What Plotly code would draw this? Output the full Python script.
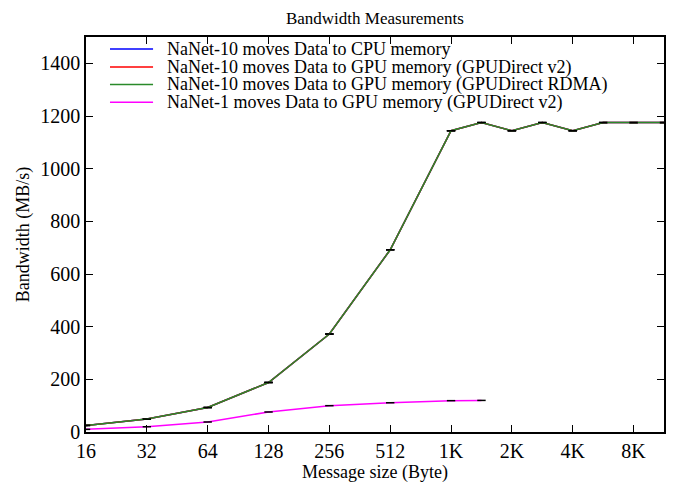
import plotly.graph_objects as go

sizes = [16, 32, 64, 128, 256, 512, 1024, 1448, 2048, 2896, 4096, 5792, 8192, 11585]
cpu_bw = [25, 49, 93, 188, 372, 692, 1144, 1175, 1144, 1175, 1144, 1175, 1175, 1175]
gpu_v2_bw = [25, 49, 93, 188, 372, 692, 1144, 1175, 1144, 1175, 1144, 1175, 1175, 1175]
gpu_rdma_bw = [25, 49, 93, 188, 372, 692, 1144, 1175, 1144, 1175, 1144, 1175, 1175, 1175]
nanet1_sizes = [16, 32, 64, 128, 256, 512, 1024, 1448]
nanet1_bw = [10, 20, 38, 76, 100, 111, 119, 120]

tick_vals = [16, 32, 64, 128, 256, 512, 1024, 2048, 4096, 8192]
tick_text = ["16", "32", "64", "128", "256", "512", "1K", "2K", "4K", "8K"]

names = [
    "NaNet-10 moves Data to CPU memory",
    "NaNet-10 moves Data to GPU memory (GPUDirect v2)",
    "NaNet-10 moves Data to GPU memory (GPUDirect RDMA)",
    "NaNet-1 moves Data to GPU memory (GPUDirect v2)",
]
colors = ["#0000ff", "#ff0000", "#2a8a2a", "#ff00ff"]

series = [
    (sizes, cpu_bw),
    (sizes, gpu_v2_bw),
    (sizes, gpu_rdma_bw),
    (nanet1_sizes, nanet1_bw),
]

font = "Liberation Serif, Times New Roman, serif"

fig = go.Figure()
for (xs, ys), name, col in zip(series, names, colors):
    fig.add_trace(go.Scatter(
        x=xs, y=ys, name=name, mode="lines+markers", showlegend=False,
        line=dict(color=col, width=1.5),
        marker=dict(symbol="line-ew", size=6, color="black",
                    line=dict(color="black", width=1.5)),
    ))

# compact gnuplot-style key, drawn in paper coordinates
key_rows = [0.9696, 0.924, 0.880, 0.835]
for name, col, ky in zip(names, colors, key_rows):
    fig.add_shape(type="line", xref="paper", yref="paper",
                  x0=0.0415, x1=0.116, y0=ky, y1=ky,
                  line=dict(color=col, width=1.5))
    fig.add_annotation(text=name, xref="paper", yref="paper",
                       x=0.1367, y=ky, xanchor="left", yanchor="middle",
                       showarrow=False, font=dict(family=font, size=18, color="black"))

# page body adds an 8px offset, so the figure is drawn 8px smaller
fig.update_layout(
    width=666, height=478,
    margin=dict(l=78, r=10, t=29, b=54, autoexpand=False),
    paper_bgcolor="white", plot_bgcolor="white",
    font=dict(family=font, size=20, color="black"),
    title=dict(text="Bandwidth Measurements", x=0.551, xanchor="center",
               y=0.979, yanchor="middle", font=dict(family=font, size=17)),
    showlegend=False,
)
fig.update_xaxes(
    type="log", range=[1.20412, 4.06389],
    tickvals=tick_vals, ticktext=tick_text,
    ticks="inside", ticklen=7, tickcolor="black",
    showline=True, linecolor="black", linewidth=1.5, mirror="allticks",
    showgrid=False, zeroline=False, automargin=False,
    tickfont=dict(family=font, size=20),
    title=dict(text="Message size (Byte)", standoff=4, font=dict(family=font, size=18)),
)
fig.update_yaxes(
    range=[0, 1500], tickvals=[0, 200, 400, 600, 800, 1000, 1200, 1400],
    ticks="inside", ticklen=7, tickcolor="black",
    showline=True, linecolor="black", linewidth=1.5, mirror="allticks",
    showgrid=False, zeroline=False, automargin=False,
    tickfont=dict(family=font, size=20),
    title=dict(text="Bandwidth (MB/s)", standoff=6, font=dict(family=font, size=18)),
)

fig.write_html("out.html")
